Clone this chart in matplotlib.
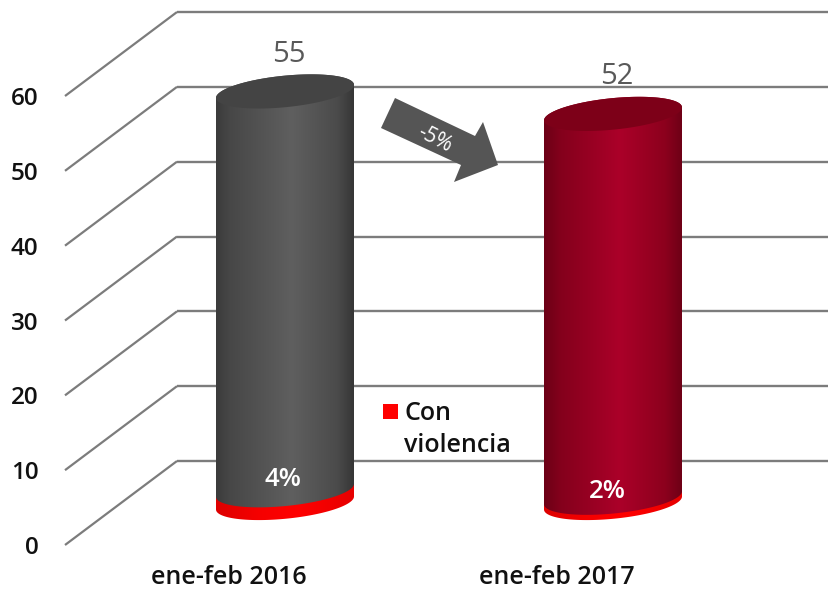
import numpy as np
import matplotlib
matplotlib.use("Agg")
import matplotlib.pyplot as plt
from matplotlib.colors import LinearSegmentedColormap
from matplotlib.patches import Polygon, Rectangle
from matplotlib.transforms import Affine2D

categories = ["ene-feb 2016", "ene-feb 2017"]
totals = [55, 52]
con_violencia = [1.7, 0.7]
violencia_labels = ["4%", "2%"]
y_ticks = [0, 10, 20, 30, 40, 50, 60]

plt.rcParams["font.family"] = ["Open Sans", "DejaVu Sans"]

W, H = 829, 590
# pixel size of one data unit
PX_X = 328.0
PX_Y = 7.483
# oblique depth of the 3d box, in data units
DEPTH_X = 112 / PX_X
DEPTH_Y = 84 / PX_Y

fig = plt.figure(figsize=(W / 100, H / 100), dpi=100)
ax = fig.add_axes([65 / W, (H - 545) / H, (W - 65) / W, 545 / H])
ax.set_xlim(-0.5, -0.5 + (W - 65) / PX_X)
ax.set_ylim(0, 545 / PX_Y)
for s in ax.spines.values():
    s.set_visible(False)
ax.patch.set_alpha(0)

# grid on the back wall and the side wall
GRID = "#7c7c7c"
for v in y_ticks:
    ax.plot([-0.5, -0.5 + DEPTH_X], [v, v + DEPTH_Y], color=GRID, lw=1.6,
            clip_on=False, zorder=1, solid_capstyle="butt")
    ax.plot([-0.5 + DEPTH_X, 2.0], [v + DEPTH_Y, v + DEPTH_Y], color=GRID, lw=1.7,
            clip_on=False, zorder=1, solid_capstyle="butt")

ax.set_yticks(y_ticks)
ax.set_yticklabels([str(v) for v in y_ticks], fontsize=17.5, color="#111111", weight="semibold")
ax.set_xticks(range(len(categories)))
ax.set_xticklabels(categories, fontsize=18, color="#111111", weight="semibold")
ax.tick_params(axis="y", length=0, pad=19)
ax.tick_params(axis="x", length=0, pad=14.5)

# cylinder geometry, sheared ellipse
RX = 69 / PX_X
SHEAR = 6.5 / PX_Y
RY = 15.8 / PX_Y


def ellipse(cx, cy, t):
    return cx + RX * np.cos(t), cy + SHEAR * np.cos(t) + RY * np.sin(t)


def body_outline(cx, y0, y1):
    # front arc at y0 (left to right), then back along the top at y1
    t0 = np.linspace(np.pi, 2 * np.pi, 80)
    t1 = np.linspace(0, np.pi, 80)
    xa, ya = ellipse(cx, y0, t0)
    xb, yb = ellipse(cx, y1, t1)
    return np.column_stack([np.r_[xa, xb], np.r_[ya, yb]])


def gradient_fill(cx, y0, y1, colors, z):
    cmap = LinearSegmentedColormap.from_list("cyl", colors)
    poly = Polygon(body_outline(cx, y0, y1), closed=True, fc="none", ec="none",
                   transform=ax.transData, clip_on=False)
    ax.add_patch(poly)
    grad = np.linspace(0, 1, 256).reshape(1, -1)
    im = ax.imshow(grad, cmap=cmap, aspect="auto", zorder=z,
                   extent=[cx - RX, cx + RX, y0 - 4, y1 + 4], clip_on=True)
    im.set_clip_path(poly)


grey_body = [(0, "#3b3b3b"), (0.1, "#474747"), (0.55, "#5f5f5f"), (0.88, "#4b4b4b"), (1, "#363636")]
red_body = [(0, "#6c0016"), (0.12, "#84001c"), (0.55, "#ab0029"), (0.88, "#8c001d"), (1, "#6e0016")]
band = [(0, "#dd0000"), (0.3, "#f50000"), (0.6, "#ff0000"), (1, "#e60000")]
bodies = [grey_body, red_body]
caps = ["#444444", "#7d0018"]

for i, (total, low) in enumerate(zip(totals, con_violencia)):
    cx = i + DEPTH_X / 2
    base = DEPTH_Y / 2
    gradient_fill(cx, base, base + low, band, 3)
    gradient_fill(cx, base + low, base + total, bodies[i], 4)
    xt, yt = ellipse(cx, base + total, np.linspace(0, 2 * np.pi, 160))
    ax.fill(xt, yt, color=caps[i], lw=0, zorder=5, clip_on=False)
    # value on top of the cylinder
    ax.text(cx + 4 / PX_X, base + total + 37 / PX_Y, str(total), ha="center", va="center",
            fontsize=21, color="#595959", zorder=6, clip_on=False)

ax.set_xlim(-0.5, -0.5 + (W - 65) / PX_X)
ax.set_ylim(0, 545 / PX_Y)

# annotations placed by pixel position
px = Affine2D().scale(1, -1).translate(0, H)
arrow_pts = [(395, 98), (381, 128), (461, 165), (454, 182), (498, 165), (483, 122), (475, 136)]
fig.add_artist(Polygon(arrow_pts, closed=True, fc="#555555", ec="none", transform=px, zorder=6))
fig.text(435, H - 139, "-5%", transform=Affine2D(), rotation=-27, rotation_mode="anchor",
         ha="center", va="center", fontsize=15, color="white", zorder=7)

fig.text(283, H - 480, violencia_labels[0], transform=Affine2D(), ha="center", va="center",
         fontsize=18.5, color="white", weight="semibold", zorder=7)
fig.text(607, H - 491, violencia_labels[1], transform=Affine2D(), ha="center", va="center",
         fontsize=18.5, color="white", weight="semibold", zorder=7)

# legend
fig.add_artist(Rectangle((383, 404), 15, 15, fc="#ff0000", ec="none", transform=px, zorder=7))
fig.text(404, H - 413, "Con", transform=Affine2D(), ha="left", va="center",
         fontsize=18, color="#111111", weight="semibold", zorder=7)
fig.text(404, H - 445, "violencia", transform=Affine2D(), ha="left", va="center",
         fontsize=18, color="#111111", weight="semibold", zorder=7)

fig.savefig("out.png", dpi=100, facecolor="white")
plt.close(fig)
